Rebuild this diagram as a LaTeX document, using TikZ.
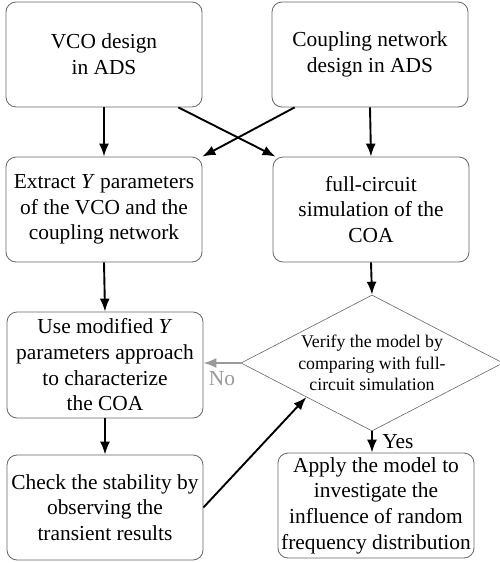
\documentclass[tikz,border=0pt]{standalone}
\usepackage{fontspec}
\setmainfont{Liberation Serif}
\usepackage{tikz}
\usetikzlibrary{positioning, shapes.geometric, arrows.meta}
\tikzset{
	stepBox/.style={rectangle, rounded corners=10pt, draw=black!60, line width=.8pt,
        minimum width=196pt, minimum height=105pt, align=center, inner sep=0pt,
        font=\fontsize{21.4}{25.7}\selectfont},
	decisionBox/.style={diamond, draw=black!60, line width=.6pt, aspect=1.9,
        minimum width=262pt, minimum height=136pt, inner sep=0pt, align=center,
        font=\fontsize{17.8}{21.5}\selectfont},
	flowArrow/.style={line width=1.9pt, -{Latex[length=13pt,width=10pt]}},
	noArrow/.style={flowArrow, black!40},
	flowLabel/.style={font=\fontsize{21.4}{25.7}\selectfont}
}

\begin{document}
\begin{tikzpicture}[x=1pt,y=-1pt]
\useasboundingbox (0,0) rectangle (500,563);
% top row
\node [stepBox] (vco) at (104,54.5) {VCO design\\in ADS};
\node [stepBox] (coup) at (370,54.5) {Coupling network\\design in ADS};
% second row
\node [stepBox] (extr) at (104,209.5) {Extract \textit{Y} parameters\\of the VCO and the\\coupling network};
\node [stepBox] (full) at (371,209.5) {full-circuit\\simulation of the\\COA};
% left column
\node [stepBox, minimum height=106pt] (use) at (105,365) {Use modified \textit{Y}\\parameters approach\\to characterize\\the COA};
\node [stepBox] (check) at (105,507.5) {Check the stability by\\observing the\\transient results};
% right column
\node [decisionBox] (verify) at (372,363) {Verify the model by\\comparing with full-\\circuit simulation};
\node [stepBox] (apply) at (376,505.5) {Apply the model to\\investigate the\\influence of random\\frequency distribution};
\draw [flowArrow] (vco.south) -- (extr.north);
\draw [flowArrow] (coup.south) -- (full.north);
\draw [flowArrow] ([xshift=-24pt]vco.south east) -- ([xshift=3pt]full.north west);
\draw [flowArrow] ([xshift=23pt]coup.south west) -- (extr.north east);
\draw [flowArrow] (extr.south) -- (use.north);
\draw [flowArrow] (full.south) -- (verify.north);
\draw [noArrow] (verify.west) -- (verify.west -| use.east) node [midway, below=4pt, flowLabel, text=black!40] (no) {No};
\draw [flowArrow] (use.south) -- (check.north);
\draw [flowArrow] (check.east) -- (verify.south west);
\draw [flowArrow] (verify.south) -- (verify.south |- apply.north) node [midway, right=6pt, flowLabel] (yes) {Yes};
\end{tikzpicture}
\end{document}
